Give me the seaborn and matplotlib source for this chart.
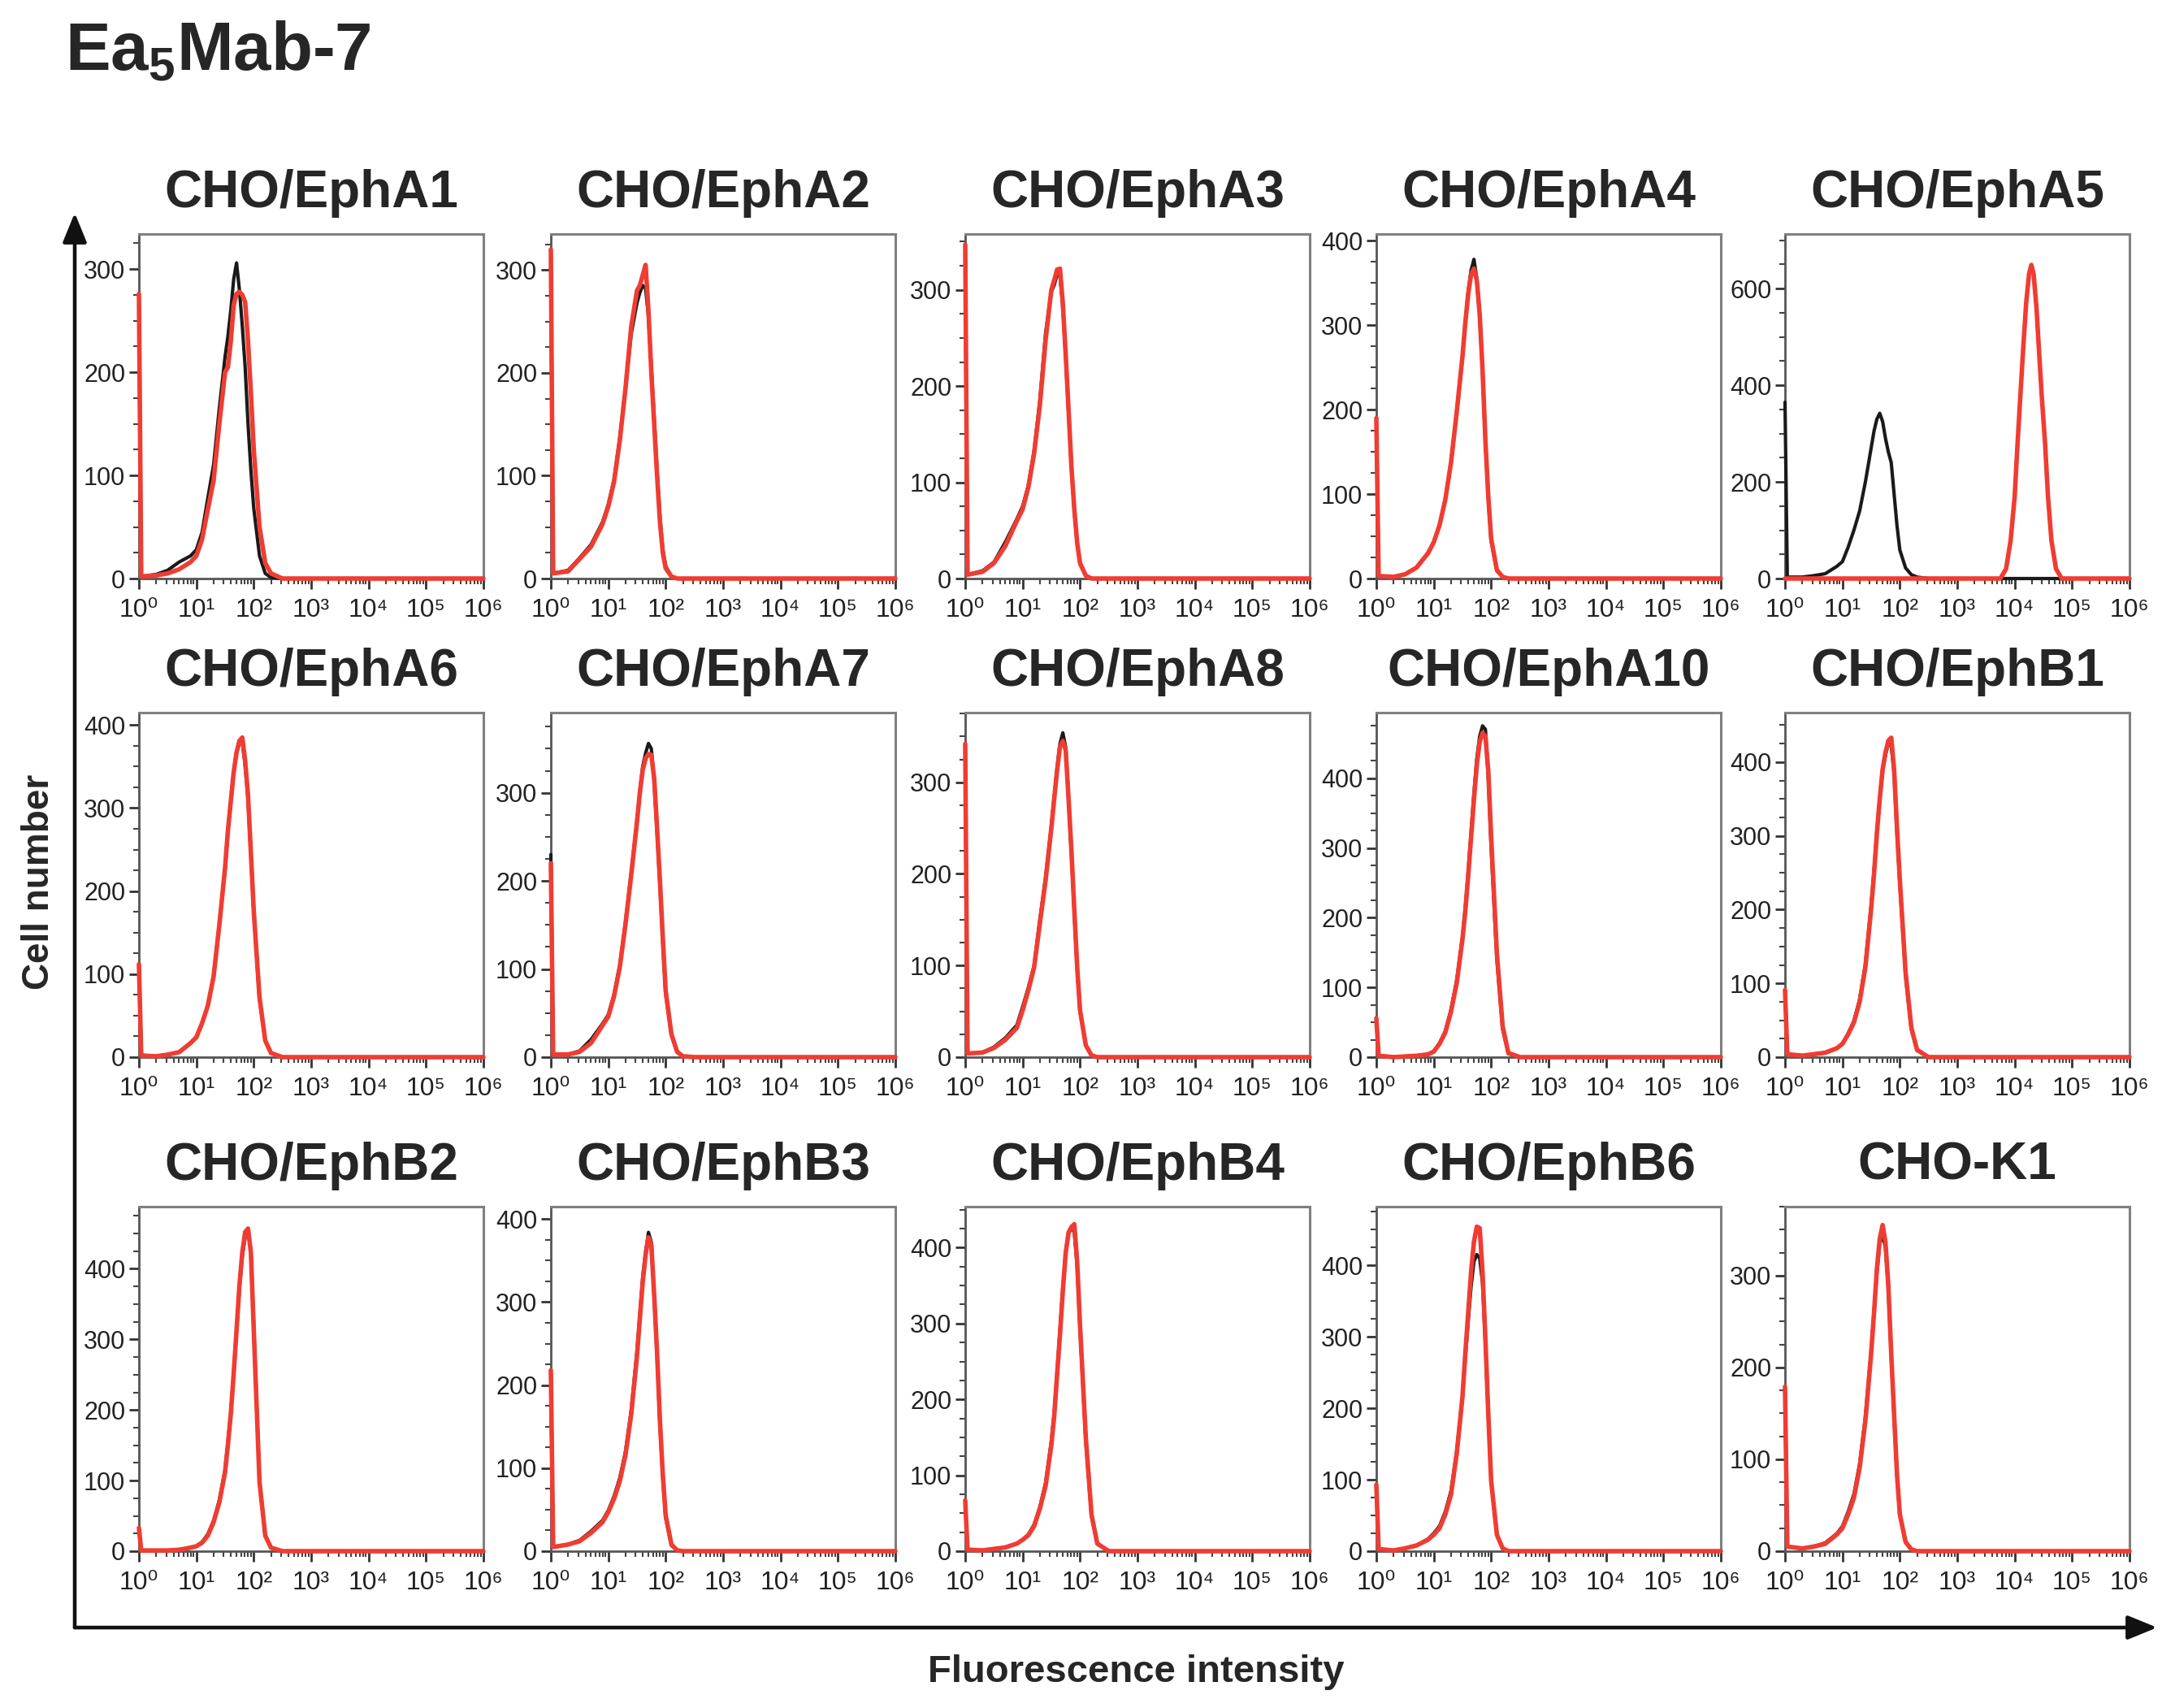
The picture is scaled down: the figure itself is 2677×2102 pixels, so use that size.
import numpy as np
import seaborn as sns
import matplotlib.pyplot as plt
from matplotlib.ticker import MultipleLocator, LogLocator, NullFormatter, FuncFormatter
from matplotlib.patches import FancyArrowPatch

# Ea5Mab-7 flow cytometry histograms (black = control, red = Ea5Mab-7)

# log10 fluorescence positions where the curves were read
log_pos = [0.0, 0.04, 0.3, 0.5, 0.7, 0.9, 1.0, 1.1, 1.2, 1.3, 1.4, 1.5, 1.55, 1.6,
           1.65, 1.7, 1.75, 1.8, 1.85, 1.9, 1.95, 2.0, 2.1, 2.2, 2.3, 2.5, 6.0]
# EphA5 red peak sits near 10^4
log_pos_a5 = [0.0, 3.75, 3.85, 3.93, 4.0, 4.05, 4.1, 4.15, 4.2, 4.25, 4.29, 4.33,
              4.38, 4.42, 4.47, 4.53, 4.58, 4.64, 4.72, 4.82, 6.0]

panels = ["CHO/EphA1", "CHO/EphA2", "CHO/EphA3", "CHO/EphA4", "CHO/EphA5",
          "CHO/EphA6", "CHO/EphA7", "CHO/EphA8", "CHO/EphA10", "CHO/EphB1",
          "CHO/EphB2", "CHO/EphB3", "CHO/EphB4", "CHO/EphB6", "CHO-K1"]
y_tops = [334, 335, 358, 408, 713, 415, 391, 376, 494, 467, 488, 415, 454, 482, 375]
y_steps = [100, 100, 100, 100, 200, 100, 100, 100, 100, 100, 100, 100, 100, 100, 100]
decade_labels = ["10⁰", "10¹", "10²", "10³", "10⁴", "10⁵", "10⁶"]

ctrl_epha1 = [260, 2, 4, 8, 16, 22, 28, 45, 78, 110, 165, 215, 235, 260, 290, 306, 280, 245, 205, 150, 105, 68, 22, 5, 1, 0, 0]
ab_epha1 = [276, 2, 3, 5, 9, 16, 22, 38, 67, 95, 150, 200, 205, 230, 265, 276, 278, 275, 268, 230, 180, 125, 50, 15, 5, 0, 0]

ctrl_epha2 = [305, 5, 8, 20, 33, 55, 72, 96, 136, 185, 238, 268, 278, 285, 282, 255, 205, 155, 105, 60, 28, 12, 2, 0, 0, 0, 0]
ab_epha2 = [320, 5, 7, 19, 31, 53, 70, 94, 134, 185, 245, 280, 285, 295, 305, 260, 200, 150, 100, 55, 25, 10, 2, 0, 0, 0, 0]

ctrl_epha3 = [340, 4, 8, 17, 38, 62, 75, 97, 133, 185, 255, 298, 305, 316, 315, 282, 230, 172, 115, 70, 36, 15, 3, 0, 0, 0, 0]
ab_epha3 = [347, 4, 7, 16, 34, 60, 72, 95, 130, 180, 248, 300, 310, 321, 322, 286, 233, 175, 116, 72, 37, 16, 3, 0, 0, 0, 0]

ctrl_epha4 = [185, 3, 2, 5, 13, 30, 43, 63, 93, 137, 197, 263, 303, 340, 365, 378, 355, 312, 245, 160, 95, 45, 9, 2, 0, 0, 0]
ab_epha4 = [190, 3, 2, 5, 13, 30, 43, 63, 93, 137, 197, 263, 303, 337, 360, 367, 353, 313, 247, 163, 97, 47, 10, 2, 0, 0, 0]

ctrl_epha5 = [365, 3, 3, 6, 10, 25, 35, 65, 100, 140, 200, 270, 305, 330, 342, 325, 290, 262, 240, 175, 110, 59, 22, 8, 3, 0, 0]
ab_epha5 = [0, 0, 20, 79, 170, 279, 380, 479, 570, 630, 649, 630, 560, 479, 380, 279, 170, 79, 20, 0, 0]

ctrl_epha6 = [110, 2, 1, 3, 6, 17, 24, 41, 62, 97, 159, 228, 273, 308, 343, 367, 378, 380, 352, 312, 244, 174, 70, 20, 5, 0, 0]
ab_epha6 = [112, 2, 1, 3, 6, 17, 24, 41, 62, 97, 159, 228, 273, 308, 343, 367, 381, 385, 357, 315, 246, 176, 72, 20, 5, 0, 0]

ctrl_epha7 = [230, 3, 3, 7, 20, 38, 48, 71, 104, 153, 209, 268, 302, 330, 345, 356, 350, 312, 255, 195, 130, 72, 25, 6, 1, 0, 0]
ab_epha7 = [220, 3, 3, 6, 16, 36, 46, 69, 102, 151, 207, 267, 300, 326, 339, 344, 343, 316, 260, 200, 135, 75, 26, 6, 1, 0, 0]

ctrl_epha8 = [335, 4, 5, 11, 21, 35, 55, 76, 100, 150, 196, 252, 284, 315, 342, 354, 338, 280, 222, 158, 96, 50, 13, 2, 0, 0, 0]
ab_epha8 = [342, 4, 5, 10, 19, 32, 51, 73, 98, 146, 193, 250, 282, 313, 339, 345, 335, 282, 225, 161, 98, 51, 13, 2, 0, 0, 0]

ctrl_epha10 = [55, 2, 0, 1, 2, 4, 8, 20, 37, 68, 110, 172, 214, 265, 322, 378, 428, 460, 475, 470, 400, 300, 140, 40, 5, 0, 0]
ab_epha10 = [56, 2, 0, 1, 2, 4, 8, 19, 35, 65, 106, 169, 210, 260, 315, 369, 419, 452, 465, 460, 410, 315, 148, 44, 6, 0, 0]

ctrl_ephb1 = [90, 4, 2, 4, 6, 12, 18, 32, 49, 78, 126, 205, 252, 305, 350, 388, 410, 425, 422, 385, 305, 235, 110, 38, 9, 0, 0]
ab_ephb1 = [91, 4, 2, 4, 6, 12, 18, 31, 47, 75, 122, 201, 248, 303, 350, 390, 413, 429, 433, 390, 311, 240, 115, 40, 10, 0, 0]

ctrl_ephb2 = [30, 1, 1, 1, 2, 5, 7, 13, 24, 43, 72, 115, 154, 196, 252, 312, 372, 418, 445, 452, 425, 318, 100, 22, 5, 0, 0]
ab_ephb2 = [33, 1, 1, 1, 2, 5, 7, 12, 22, 41, 69, 112, 151, 194, 251, 313, 376, 423, 452, 457, 423, 313, 98, 22, 5, 0, 0]

ctrl_ephb3 = [215, 5, 8, 13, 24, 37, 49, 66, 88, 120, 170, 240, 285, 330, 360, 384, 372, 305, 235, 152, 88, 40, 7, 1, 0, 0, 0]
ab_ephb3 = [218, 5, 8, 12, 22, 35, 47, 63, 84, 116, 165, 235, 280, 324, 357, 378, 369, 308, 239, 157, 92, 43, 8, 1, 0, 0, 0]

ctrl_ephb4 = [65, 2, 1, 3, 5, 10, 15, 22, 35, 58, 90, 145, 182, 236, 290, 346, 395, 418, 428, 420, 375, 292, 145, 46, 10, 0, 0]
ab_ephb4 = [67, 2, 1, 3, 5, 10, 15, 21, 33, 56, 86, 140, 178, 232, 285, 343, 393, 420, 427, 431, 381, 297, 150, 48, 10, 0, 0]

ctrl_ephb6 = [90, 3, 1, 4, 8, 17, 25, 35, 55, 84, 140, 215, 270, 322, 370, 405, 415, 410, 375, 290, 190, 98, 23, 4, 0, 0, 0]
ab_ephb6 = [93, 3, 1, 4, 8, 16, 23, 32, 51, 79, 136, 216, 277, 334, 390, 433, 454, 452, 390, 296, 192, 98, 23, 4, 0, 0, 0]

ctrl_chok1 = [175, 5, 3, 5, 9, 19, 27, 43, 62, 95, 146, 218, 260, 303, 335, 344, 330, 285, 212, 147, 83, 40, 10, 2, 0, 0, 0]
ab_chok1 = [179, 5, 3, 5, 8, 18, 25, 40, 58, 91, 142, 215, 259, 307, 340, 355, 336, 289, 215, 149, 84, 40, 10, 2, 0, 0, 0]

ctrl = [ctrl_epha1, ctrl_epha2, ctrl_epha3, ctrl_epha4, ctrl_epha5,
        ctrl_epha6, ctrl_epha7, ctrl_epha8, ctrl_epha10, ctrl_ephb1,
        ctrl_ephb2, ctrl_ephb3, ctrl_ephb4, ctrl_ephb6, ctrl_chok1]
ab = [ab_epha1, ab_epha2, ab_epha3, ab_epha4, ab_epha5,
      ab_epha6, ab_epha7, ab_epha8, ab_epha10, ab_ephb1,
      ab_ephb2, ab_ephb3, ab_ephb4, ab_ephb6, ab_chok1]

# Style

sns.set_style("ticks")
plt.rcParams["font.family"] = ["Liberation Sans", "DejaVu Sans"]
plt.rcParams["mathtext.fontset"] = "custom"
plt.rcParams["mathtext.rm"] = "Liberation Sans"
plt.rcParams["mathtext.bf"] = "Liberation Sans:bold"
plt.rcParams["mathtext.default"] = "regular"

W, H = 2677, 2102
col_left = [171, 678, 1188, 1694, 2197]
row_top = [288, 877, 1485]
box = 424

red = "#f03c32"
dark = "#1a1a1a"


def decade_label(v, pos):
    k = int(round(np.log10(v)))
    if 0 <= k < len(decade_labels):
        return decade_labels[k]
    return ""


fig = plt.figure(figsize=(W / 100, H / 100), dpi=100)

for i, name in enumerate(panels):
    r, c = divmod(i, 5)
    ax = fig.add_axes([col_left[c] / W, 1 - (row_top[r] + box) / H, box / W, box / H])

    x_ctrl = 10 ** np.array(log_pos)
    x_ab = 10 ** np.array(log_pos_a5 if name == "CHO/EphA5" else log_pos)

    sns.lineplot(x=x_ctrl, y=ctrl[i], ax=ax, color=dark, lw=3.0, estimator=None, sort=False)
    sns.lineplot(x=x_ab, y=ab[i], ax=ax, color=red, lw=4.0, estimator=None, sort=False)
    for line in ax.lines:
        line.set_clip_on(False)
        line.set_zorder(3)

    ax.set_xscale("log")
    ax.set_xlim(1, 1e6)
    ax.set_ylim(0, y_tops[i])
    ax.set_xlabel("")
    ax.set_ylabel("")

    ax.xaxis.set_major_locator(LogLocator(base=10, numticks=10))
    ax.xaxis.set_major_formatter(FuncFormatter(decade_label))
    ax.xaxis.set_minor_locator(LogLocator(base=10, subs=np.arange(2, 10), numticks=20))
    ax.xaxis.set_minor_formatter(NullFormatter())
    ax.yaxis.set_major_locator(MultipleLocator(y_steps[i]))
    ax.yaxis.set_minor_locator(MultipleLocator(y_steps[i] / 4))

    ax.tick_params(which="major", length=9, width=2, color="#333333", labelcolor="#222222")
    ax.tick_params(axis="y", which="major", pad=3, labelsize=22)
    ax.tick_params(axis="x", which="major", pad=8, labelsize=23)
    ax.tick_params(which="minor", length=5, width=1.5, color="#444444")

    for side in ["left", "bottom"]:
        ax.spines[side].set_color("#555555")
        ax.spines[side].set_linewidth(2)
    for side in ["top", "right"]:
        ax.spines[side].set_color("#808080")
        ax.spines[side].set_linewidth(2.2)

    ax.set_title(name, fontsize=46, fontweight="bold", pad=24)

# Figure title and shared axis labels

fig.text(80 / W, 1 - 86 / H, r"Ea$_5$Mab-7", fontsize=60, fontweight="bold",
         va="baseline", ha="left")

fig.text(48 / W, 1 - 1085 / H, "Cell number", fontsize=33, fontweight="bold",
         rotation=90, ha="center", va="center")
fig.text(1398 / W, 1 - 2070 / H, "Fluorescence intensity", fontsize=34,
         fontweight="bold", ha="center", va="baseline")

arrow_kw = dict(transform=fig.transFigure, arrowstyle="-|>,head_length=1.1,head_width=0.45",
                mutation_scale=20, lw=3.3, color="#111111", shrinkA=0, shrinkB=0)
fig.add_artist(FancyArrowPatch((92 / W, 1 - 2003 / H), (92 / W, 1 - 262 / H), **arrow_kw))
fig.add_artist(FancyArrowPatch((92 / W, 1 - 2003 / H), (2655 / W, 1 - 2003 / H), **arrow_kw))

fig.savefig("out.png", dpi=100)
